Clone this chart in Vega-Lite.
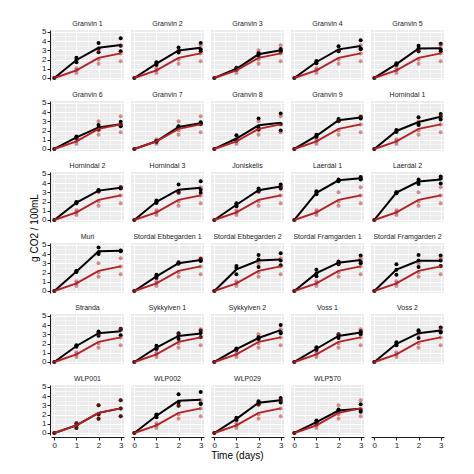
{
"$schema": "https://vega.github.io/schema/vega-lite/v6.json",
"padding": {"left": 29, "top": 20, "right": 5, "bottom": 5},
"background": "white",
"title": {"text": "Time (days)", "orient": "bottom", "anchor": "middle", "fontSize": 10, "font": "Liberation Sans", "fontWeight": "normal", "color": "#000000", "offset": 2},
"data": {"values": [
{"s":"Granvin 1","g":"b","t":0,"v":0},{"s":"Granvin 1","g":"b","t":1,"v":1.7},{"s":"Granvin 1","g":"b","t":1,"v":1.95},{"s":"Granvin 1","g":"b","t":1,"v":2.2},{"s":"Granvin 1","g":"b","t":2,"v":2.8},{"s":"Granvin 1","g":"b","t":2,"v":3.2},{"s":"Granvin 1","g":"b","t":2,"v":3.8},{"s":"Granvin 1","g":"b","t":3,"v":2.9},{"s":"Granvin 1","g":"b","t":3,"v":3.5},{"s":"Granvin 1","g":"b","t":3,"v":4.3},
{"s":"Granvin 2","g":"b","t":0,"v":0},{"s":"Granvin 2","g":"b","t":1,"v":1.4},{"s":"Granvin 2","g":"b","t":1,"v":1.55},{"s":"Granvin 2","g":"b","t":1,"v":1.7},{"s":"Granvin 2","g":"b","t":2,"v":2.75},{"s":"Granvin 2","g":"b","t":2,"v":2.9},{"s":"Granvin 2","g":"b","t":2,"v":3.3},{"s":"Granvin 2","g":"b","t":3,"v":2.9},{"s":"Granvin 2","g":"b","t":3,"v":3.1},{"s":"Granvin 2","g":"b","t":3,"v":3.8},
{"s":"Granvin 3","g":"b","t":0,"v":0},{"s":"Granvin 3","g":"b","t":1,"v":0.9},{"s":"Granvin 3","g":"b","t":1,"v":1.0},{"s":"Granvin 3","g":"b","t":1,"v":1.1},{"s":"Granvin 3","g":"b","t":2,"v":2.4},{"s":"Granvin 3","g":"b","t":2,"v":2.6},{"s":"Granvin 3","g":"b","t":2,"v":2.7},{"s":"Granvin 3","g":"b","t":3,"v":2.85},{"s":"Granvin 3","g":"b","t":3,"v":3.0},{"s":"Granvin 3","g":"b","t":3,"v":3.15},
{"s":"Granvin 4","g":"b","t":0,"v":0},{"s":"Granvin 4","g":"b","t":1,"v":1.6},{"s":"Granvin 4","g":"b","t":1,"v":1.75},{"s":"Granvin 4","g":"b","t":1,"v":1.85},{"s":"Granvin 4","g":"b","t":2,"v":2.9},{"s":"Granvin 4","g":"b","t":2,"v":2.95},{"s":"Granvin 4","g":"b","t":2,"v":3.45},{"s":"Granvin 4","g":"b","t":3,"v":3.1},{"s":"Granvin 4","g":"b","t":3,"v":3.2},{"s":"Granvin 4","g":"b","t":3,"v":4.1},
{"s":"Granvin 5","g":"b","t":0,"v":0},{"s":"Granvin 5","g":"b","t":1,"v":1.4},{"s":"Granvin 5","g":"b","t":1,"v":1.5},{"s":"Granvin 5","g":"b","t":1,"v":1.6},{"s":"Granvin 5","g":"b","t":2,"v":2.9},{"s":"Granvin 5","g":"b","t":2,"v":3.2},{"s":"Granvin 5","g":"b","t":2,"v":3.5},{"s":"Granvin 5","g":"b","t":3,"v":2.9},{"s":"Granvin 5","g":"b","t":3,"v":3.1},{"s":"Granvin 5","g":"b","t":3,"v":3.7},
{"s":"Granvin 6","g":"b","t":0,"v":0},{"s":"Granvin 6","g":"b","t":1,"v":1.15},{"s":"Granvin 6","g":"b","t":1,"v":1.25},{"s":"Granvin 6","g":"b","t":1,"v":1.35},{"s":"Granvin 6","g":"b","t":2,"v":2.1},{"s":"Granvin 6","g":"b","t":2,"v":2.3},{"s":"Granvin 6","g":"b","t":2,"v":2.6},{"s":"Granvin 6","g":"b","t":3,"v":2.45},{"s":"Granvin 6","g":"b","t":3,"v":2.65},{"s":"Granvin 6","g":"b","t":3,"v":2.95},
{"s":"Granvin 7","g":"b","t":0,"v":0},{"s":"Granvin 7","g":"b","t":1,"v":0.75},{"s":"Granvin 7","g":"b","t":1,"v":0.85},{"s":"Granvin 7","g":"b","t":1,"v":0.9},{"s":"Granvin 7","g":"b","t":2,"v":2.3},{"s":"Granvin 7","g":"b","t":2,"v":2.4},{"s":"Granvin 7","g":"b","t":2,"v":2.45},{"s":"Granvin 7","g":"b","t":3,"v":2.7},{"s":"Granvin 7","g":"b","t":3,"v":2.8},{"s":"Granvin 7","g":"b","t":3,"v":2.9},
{"s":"Granvin 8","g":"b","t":0,"v":0},{"s":"Granvin 8","g":"b","t":1,"v":0.9},{"s":"Granvin 8","g":"b","t":1,"v":1.0},{"s":"Granvin 8","g":"b","t":1,"v":1.5},{"s":"Granvin 8","g":"b","t":2,"v":2.1},{"s":"Granvin 8","g":"b","t":2,"v":2.3},{"s":"Granvin 8","g":"b","t":2,"v":3.3},{"s":"Granvin 8","g":"b","t":3,"v":2.0},{"s":"Granvin 8","g":"b","t":3,"v":2.7},{"s":"Granvin 8","g":"b","t":3,"v":3.85},
{"s":"Granvin 9","g":"b","t":0,"v":0},{"s":"Granvin 9","g":"b","t":1,"v":1.3},{"s":"Granvin 9","g":"b","t":1,"v":1.4},{"s":"Granvin 9","g":"b","t":1,"v":1.55},{"s":"Granvin 9","g":"b","t":2,"v":3.0},{"s":"Granvin 9","g":"b","t":2,"v":3.1},{"s":"Granvin 9","g":"b","t":2,"v":3.25},{"s":"Granvin 9","g":"b","t":3,"v":3.3},{"s":"Granvin 9","g":"b","t":3,"v":3.4},{"s":"Granvin 9","g":"b","t":3,"v":3.5},
{"s":"Hornindal 1","g":"b","t":0,"v":0},{"s":"Hornindal 1","g":"b","t":1,"v":1.85},{"s":"Hornindal 1","g":"b","t":1,"v":1.95},{"s":"Hornindal 1","g":"b","t":1,"v":2.05},{"s":"Hornindal 1","g":"b","t":2,"v":2.6},{"s":"Hornindal 1","g":"b","t":2,"v":2.7},{"s":"Hornindal 1","g":"b","t":2,"v":3.45},{"s":"Hornindal 1","g":"b","t":3,"v":3.2},{"s":"Hornindal 1","g":"b","t":3,"v":3.5},{"s":"Hornindal 1","g":"b","t":3,"v":3.8},
{"s":"Hornindal 2","g":"b","t":0,"v":0},{"s":"Hornindal 2","g":"b","t":1,"v":1.8},{"s":"Hornindal 2","g":"b","t":1,"v":1.9},{"s":"Hornindal 2","g":"b","t":1,"v":1.95},{"s":"Hornindal 2","g":"b","t":2,"v":3.1},{"s":"Hornindal 2","g":"b","t":2,"v":3.2},{"s":"Hornindal 2","g":"b","t":2,"v":3.25},{"s":"Hornindal 2","g":"b","t":3,"v":3.4},{"s":"Hornindal 2","g":"b","t":3,"v":3.5},{"s":"Hornindal 2","g":"b","t":3,"v":3.55},
{"s":"Hornindal 3","g":"b","t":0,"v":0},{"s":"Hornindal 3","g":"b","t":1,"v":1.85},{"s":"Hornindal 3","g":"b","t":1,"v":1.95},{"s":"Hornindal 3","g":"b","t":1,"v":2.1},{"s":"Hornindal 3","g":"b","t":2,"v":2.95},{"s":"Hornindal 3","g":"b","t":2,"v":3.05},{"s":"Hornindal 3","g":"b","t":2,"v":3.85},{"s":"Hornindal 3","g":"b","t":3,"v":2.95},{"s":"Hornindal 3","g":"b","t":3,"v":3.3},{"s":"Hornindal 3","g":"b","t":3,"v":4.2},
{"s":"Joniskelis","g":"b","t":0,"v":0},{"s":"Joniskelis","g":"b","t":1,"v":1.5},{"s":"Joniskelis","g":"b","t":1,"v":1.65},{"s":"Joniskelis","g":"b","t":1,"v":1.8},{"s":"Joniskelis","g":"b","t":2,"v":3.1},{"s":"Joniskelis","g":"b","t":2,"v":3.2},{"s":"Joniskelis","g":"b","t":2,"v":3.4},{"s":"Joniskelis","g":"b","t":3,"v":3.4},{"s":"Joniskelis","g":"b","t":3,"v":3.6},{"s":"Joniskelis","g":"b","t":3,"v":3.85},
{"s":"Laerdal 1","g":"b","t":0,"v":0},{"s":"Laerdal 1","g":"b","t":1,"v":2.8},{"s":"Laerdal 1","g":"b","t":1,"v":2.95},{"s":"Laerdal 1","g":"b","t":1,"v":3.1},{"s":"Laerdal 1","g":"b","t":2,"v":4.2},{"s":"Laerdal 1","g":"b","t":2,"v":4.3},{"s":"Laerdal 1","g":"b","t":2,"v":4.4},{"s":"Laerdal 1","g":"b","t":3,"v":4.4},{"s":"Laerdal 1","g":"b","t":3,"v":4.5},{"s":"Laerdal 1","g":"b","t":3,"v":4.65},
{"s":"Laerdal 2","g":"b","t":0,"v":0},{"s":"Laerdal 2","g":"b","t":1,"v":2.9},{"s":"Laerdal 2","g":"b","t":1,"v":3.0},{"s":"Laerdal 2","g":"b","t":1,"v":3.0},{"s":"Laerdal 2","g":"b","t":2,"v":3.9},{"s":"Laerdal 2","g":"b","t":2,"v":4.2},{"s":"Laerdal 2","g":"b","t":2,"v":4.4},{"s":"Laerdal 2","g":"b","t":3,"v":3.95},{"s":"Laerdal 2","g":"b","t":3,"v":4.5},{"s":"Laerdal 2","g":"b","t":3,"v":4.7},
{"s":"Muri","g":"b","t":0,"v":0},{"s":"Muri","g":"b","t":1,"v":2.05},{"s":"Muri","g":"b","t":1,"v":2.1},{"s":"Muri","g":"b","t":1,"v":2.2},{"s":"Muri","g":"b","t":2,"v":4.0},{"s":"Muri","g":"b","t":2,"v":4.2},{"s":"Muri","g":"b","t":2,"v":4.7},{"s":"Muri","g":"b","t":3,"v":4.3},{"s":"Muri","g":"b","t":3,"v":4.35},{"s":"Muri","g":"b","t":3,"v":4.4},
{"s":"Stordal Ebbegarden 1","g":"b","t":0,"v":0},{"s":"Stordal Ebbegarden 1","g":"b","t":1,"v":1.4},{"s":"Stordal Ebbegarden 1","g":"b","t":1,"v":1.6},{"s":"Stordal Ebbegarden 1","g":"b","t":1,"v":1.75},{"s":"Stordal Ebbegarden 1","g":"b","t":2,"v":2.95},{"s":"Stordal Ebbegarden 1","g":"b","t":2,"v":3.0},{"s":"Stordal Ebbegarden 1","g":"b","t":2,"v":3.1},{"s":"Stordal Ebbegarden 1","g":"b","t":3,"v":3.25},{"s":"Stordal Ebbegarden 1","g":"b","t":3,"v":3.35},{"s":"Stordal Ebbegarden 1","g":"b","t":3,"v":3.5},
{"s":"Stordal Ebbegarden 2","g":"b","t":0,"v":0},{"s":"Stordal Ebbegarden 2","g":"b","t":1,"v":1.8},{"s":"Stordal Ebbegarden 2","g":"b","t":1,"v":2.5},{"s":"Stordal Ebbegarden 2","g":"b","t":1,"v":2.7},{"s":"Stordal Ebbegarden 2","g":"b","t":2,"v":2.6},{"s":"Stordal Ebbegarden 2","g":"b","t":2,"v":3.4},{"s":"Stordal Ebbegarden 2","g":"b","t":2,"v":3.9},{"s":"Stordal Ebbegarden 2","g":"b","t":3,"v":2.8},{"s":"Stordal Ebbegarden 2","g":"b","t":3,"v":3.3},{"s":"Stordal Ebbegarden 2","g":"b","t":3,"v":4.1},
{"s":"Stordal Framgarden 1","g":"b","t":0,"v":0},{"s":"Stordal Framgarden 1","g":"b","t":1,"v":1.6},{"s":"Stordal Framgarden 1","g":"b","t":1,"v":1.9},{"s":"Stordal Framgarden 1","g":"b","t":1,"v":2.3},{"s":"Stordal Framgarden 1","g":"b","t":2,"v":2.9},{"s":"Stordal Framgarden 1","g":"b","t":2,"v":3.1},{"s":"Stordal Framgarden 1","g":"b","t":2,"v":3.2},{"s":"Stordal Framgarden 1","g":"b","t":3,"v":3.0},{"s":"Stordal Framgarden 1","g":"b","t":3,"v":3.2},{"s":"Stordal Framgarden 1","g":"b","t":3,"v":3.85},
{"s":"Stordal Framgarden 2","g":"b","t":0,"v":0},{"s":"Stordal Framgarden 2","g":"b","t":1,"v":1.75},{"s":"Stordal Framgarden 2","g":"b","t":1,"v":2.3},{"s":"Stordal Framgarden 2","g":"b","t":1,"v":2.9},{"s":"Stordal Framgarden 2","g":"b","t":2,"v":2.6},{"s":"Stordal Framgarden 2","g":"b","t":2,"v":3.3},{"s":"Stordal Framgarden 2","g":"b","t":2,"v":3.9},{"s":"Stordal Framgarden 2","g":"b","t":3,"v":2.7},{"s":"Stordal Framgarden 2","g":"b","t":3,"v":3.3},{"s":"Stordal Framgarden 2","g":"b","t":3,"v":3.85},
{"s":"Stranda","g":"b","t":0,"v":0},{"s":"Stranda","g":"b","t":1,"v":1.65},{"s":"Stranda","g":"b","t":1,"v":1.75},{"s":"Stranda","g":"b","t":1,"v":1.8},{"s":"Stranda","g":"b","t":2,"v":2.85},{"s":"Stranda","g":"b","t":2,"v":3.2},{"s":"Stranda","g":"b","t":2,"v":3.3},{"s":"Stranda","g":"b","t":3,"v":2.9},{"s":"Stranda","g":"b","t":3,"v":3.5},{"s":"Stranda","g":"b","t":3,"v":3.6},
{"s":"Sykkylven 1","g":"b","t":0,"v":0},{"s":"Sykkylven 1","g":"b","t":1,"v":1.4},{"s":"Sykkylven 1","g":"b","t":1,"v":1.5},{"s":"Sykkylven 1","g":"b","t":1,"v":1.75},{"s":"Sykkylven 1","g":"b","t":2,"v":2.5},{"s":"Sykkylven 1","g":"b","t":2,"v":2.85},{"s":"Sykkylven 1","g":"b","t":2,"v":3.1},{"s":"Sykkylven 1","g":"b","t":3,"v":2.7},{"s":"Sykkylven 1","g":"b","t":3,"v":3.15},{"s":"Sykkylven 1","g":"b","t":3,"v":3.4},
{"s":"Sykkylven 2","g":"b","t":0,"v":0},{"s":"Sykkylven 2","g":"b","t":1,"v":1.3},{"s":"Sykkylven 2","g":"b","t":1,"v":1.4},{"s":"Sykkylven 2","g":"b","t":1,"v":1.45},{"s":"Sykkylven 2","g":"b","t":2,"v":2.5},{"s":"Sykkylven 2","g":"b","t":2,"v":2.6},{"s":"Sykkylven 2","g":"b","t":2,"v":2.7},{"s":"Sykkylven 2","g":"b","t":3,"v":3.1},{"s":"Sykkylven 2","g":"b","t":3,"v":3.25},{"s":"Sykkylven 2","g":"b","t":3,"v":4.0},
{"s":"Voss 1","g":"b","t":0,"v":0},{"s":"Voss 1","g":"b","t":1,"v":1.3},{"s":"Voss 1","g":"b","t":1,"v":1.4},{"s":"Voss 1","g":"b","t":1,"v":1.6},{"s":"Voss 1","g":"b","t":2,"v":2.6},{"s":"Voss 1","g":"b","t":2,"v":2.85},{"s":"Voss 1","g":"b","t":2,"v":3.0},{"s":"Voss 1","g":"b","t":3,"v":3.0},{"s":"Voss 1","g":"b","t":3,"v":3.2},{"s":"Voss 1","g":"b","t":3,"v":3.35},
{"s":"Voss 2","g":"b","t":0,"v":0},{"s":"Voss 2","g":"b","t":1,"v":1.8},{"s":"Voss 2","g":"b","t":1,"v":1.95},{"s":"Voss 2","g":"b","t":1,"v":2.15},{"s":"Voss 2","g":"b","t":2,"v":2.6},{"s":"Voss 2","g":"b","t":2,"v":3.3},{"s":"Voss 2","g":"b","t":2,"v":3.45},{"s":"Voss 2","g":"b","t":3,"v":3.2},{"s":"Voss 2","g":"b","t":3,"v":3.3},{"s":"Voss 2","g":"b","t":3,"v":3.75},
{"s":"WLP001","g":"b","t":0,"v":0},{"s":"WLP001","g":"b","t":1,"v":0.55},{"s":"WLP001","g":"b","t":1,"v":0.85},{"s":"WLP001","g":"b","t":1,"v":1.05},{"s":"WLP001","g":"b","t":2,"v":1.55},{"s":"WLP001","g":"b","t":2,"v":2.0},{"s":"WLP001","g":"b","t":2,"v":3.0},{"s":"WLP001","g":"b","t":3,"v":1.8},{"s":"WLP001","g":"b","t":3,"v":2.65},{"s":"WLP001","g":"b","t":3,"v":3.55},
{"s":"WLP002","g":"b","t":0,"v":0},{"s":"WLP002","g":"b","t":1,"v":1.7},{"s":"WLP002","g":"b","t":1,"v":1.9},{"s":"WLP002","g":"b","t":1,"v":2.0},{"s":"WLP002","g":"b","t":2,"v":2.95},{"s":"WLP002","g":"b","t":2,"v":3.3},{"s":"WLP002","g":"b","t":2,"v":4.2},{"s":"WLP002","g":"b","t":3,"v":3.15},{"s":"WLP002","g":"b","t":3,"v":3.2},{"s":"WLP002","g":"b","t":3,"v":4.45},
{"s":"WLP029","g":"b","t":0,"v":0},{"s":"WLP029","g":"b","t":1,"v":1.4},{"s":"WLP029","g":"b","t":1,"v":1.55},{"s":"WLP029","g":"b","t":1,"v":1.65},{"s":"WLP029","g":"b","t":2,"v":3.1},{"s":"WLP029","g":"b","t":2,"v":3.3},{"s":"WLP029","g":"b","t":2,"v":3.45},{"s":"WLP029","g":"b","t":3,"v":3.3},{"s":"WLP029","g":"b","t":3,"v":3.55},{"s":"WLP029","g":"b","t":3,"v":3.8},
{"s":"WLP570","g":"b","t":0,"v":0},{"s":"WLP570","g":"b","t":1,"v":1.0},{"s":"WLP570","g":"b","t":1,"v":1.15},{"s":"WLP570","g":"b","t":1,"v":1.35},{"s":"WLP570","g":"b","t":2,"v":2.3},{"s":"WLP570","g":"b","t":2,"v":2.45},{"s":"WLP570","g":"b","t":2,"v":2.55},{"s":"WLP570","g":"b","t":3,"v":2.3},{"s":"WLP570","g":"b","t":3,"v":2.5},{"s":"WLP570","g":"b","t":3,"v":3.1},
{"s":"Granvin 1","g":"r","t":0,"v":0},{"s":"Granvin 1","g":"r","t":1,"v":0.55},{"s":"Granvin 1","g":"r","t":1,"v":0.85},{"s":"Granvin 1","g":"r","t":1,"v":1.05},{"s":"Granvin 1","g":"r","t":2,"v":1.55},{"s":"Granvin 1","g":"r","t":2,"v":2.0},{"s":"Granvin 1","g":"r","t":2,"v":3.0},{"s":"Granvin 1","g":"r","t":3,"v":1.8},{"s":"Granvin 1","g":"r","t":3,"v":2.65},{"s":"Granvin 1","g":"r","t":3,"v":3.55},
{"s":"Granvin 2","g":"r","t":0,"v":0},{"s":"Granvin 2","g":"r","t":1,"v":0.55},{"s":"Granvin 2","g":"r","t":1,"v":0.85},{"s":"Granvin 2","g":"r","t":1,"v":1.05},{"s":"Granvin 2","g":"r","t":2,"v":1.55},{"s":"Granvin 2","g":"r","t":2,"v":2.0},{"s":"Granvin 2","g":"r","t":2,"v":3.0},{"s":"Granvin 2","g":"r","t":3,"v":1.8},{"s":"Granvin 2","g":"r","t":3,"v":2.65},{"s":"Granvin 2","g":"r","t":3,"v":3.55},
{"s":"Granvin 3","g":"r","t":0,"v":0},{"s":"Granvin 3","g":"r","t":1,"v":0.55},{"s":"Granvin 3","g":"r","t":1,"v":0.85},{"s":"Granvin 3","g":"r","t":1,"v":1.05},{"s":"Granvin 3","g":"r","t":2,"v":1.55},{"s":"Granvin 3","g":"r","t":2,"v":2.0},{"s":"Granvin 3","g":"r","t":2,"v":3.0},{"s":"Granvin 3","g":"r","t":3,"v":1.8},{"s":"Granvin 3","g":"r","t":3,"v":2.65},{"s":"Granvin 3","g":"r","t":3,"v":3.55},
{"s":"Granvin 4","g":"r","t":0,"v":0},{"s":"Granvin 4","g":"r","t":1,"v":0.55},{"s":"Granvin 4","g":"r","t":1,"v":0.85},{"s":"Granvin 4","g":"r","t":1,"v":1.05},{"s":"Granvin 4","g":"r","t":2,"v":1.55},{"s":"Granvin 4","g":"r","t":2,"v":2.0},{"s":"Granvin 4","g":"r","t":2,"v":3.0},{"s":"Granvin 4","g":"r","t":3,"v":1.8},{"s":"Granvin 4","g":"r","t":3,"v":2.65},{"s":"Granvin 4","g":"r","t":3,"v":3.55},
{"s":"Granvin 5","g":"r","t":0,"v":0},{"s":"Granvin 5","g":"r","t":1,"v":0.55},{"s":"Granvin 5","g":"r","t":1,"v":0.85},{"s":"Granvin 5","g":"r","t":1,"v":1.05},{"s":"Granvin 5","g":"r","t":2,"v":1.55},{"s":"Granvin 5","g":"r","t":2,"v":2.0},{"s":"Granvin 5","g":"r","t":2,"v":3.0},{"s":"Granvin 5","g":"r","t":3,"v":1.8},{"s":"Granvin 5","g":"r","t":3,"v":2.65},{"s":"Granvin 5","g":"r","t":3,"v":3.55},
{"s":"Granvin 6","g":"r","t":0,"v":0},{"s":"Granvin 6","g":"r","t":1,"v":0.55},{"s":"Granvin 6","g":"r","t":1,"v":0.85},{"s":"Granvin 6","g":"r","t":1,"v":1.05},{"s":"Granvin 6","g":"r","t":2,"v":1.55},{"s":"Granvin 6","g":"r","t":2,"v":2.0},{"s":"Granvin 6","g":"r","t":2,"v":3.0},{"s":"Granvin 6","g":"r","t":3,"v":1.8},{"s":"Granvin 6","g":"r","t":3,"v":2.65},{"s":"Granvin 6","g":"r","t":3,"v":3.55},
{"s":"Granvin 7","g":"r","t":0,"v":0},{"s":"Granvin 7","g":"r","t":1,"v":0.55},{"s":"Granvin 7","g":"r","t":1,"v":0.85},{"s":"Granvin 7","g":"r","t":1,"v":1.05},{"s":"Granvin 7","g":"r","t":2,"v":1.55},{"s":"Granvin 7","g":"r","t":2,"v":2.0},{"s":"Granvin 7","g":"r","t":2,"v":3.0},{"s":"Granvin 7","g":"r","t":3,"v":1.8},{"s":"Granvin 7","g":"r","t":3,"v":2.65},{"s":"Granvin 7","g":"r","t":3,"v":3.55},
{"s":"Granvin 8","g":"r","t":0,"v":0},{"s":"Granvin 8","g":"r","t":1,"v":0.55},{"s":"Granvin 8","g":"r","t":1,"v":0.85},{"s":"Granvin 8","g":"r","t":1,"v":1.05},{"s":"Granvin 8","g":"r","t":2,"v":1.55},{"s":"Granvin 8","g":"r","t":2,"v":2.0},{"s":"Granvin 8","g":"r","t":2,"v":3.0},{"s":"Granvin 8","g":"r","t":3,"v":1.8},{"s":"Granvin 8","g":"r","t":3,"v":2.65},{"s":"Granvin 8","g":"r","t":3,"v":3.55},
{"s":"Granvin 9","g":"r","t":0,"v":0},{"s":"Granvin 9","g":"r","t":1,"v":0.55},{"s":"Granvin 9","g":"r","t":1,"v":0.85},{"s":"Granvin 9","g":"r","t":1,"v":1.05},{"s":"Granvin 9","g":"r","t":2,"v":1.55},{"s":"Granvin 9","g":"r","t":2,"v":2.0},{"s":"Granvin 9","g":"r","t":2,"v":3.0},{"s":"Granvin 9","g":"r","t":3,"v":1.8},{"s":"Granvin 9","g":"r","t":3,"v":2.65},{"s":"Granvin 9","g":"r","t":3,"v":3.55},
{"s":"Hornindal 1","g":"r","t":0,"v":0},{"s":"Hornindal 1","g":"r","t":1,"v":0.55},{"s":"Hornindal 1","g":"r","t":1,"v":0.85},{"s":"Hornindal 1","g":"r","t":1,"v":1.05},{"s":"Hornindal 1","g":"r","t":2,"v":1.55},{"s":"Hornindal 1","g":"r","t":2,"v":2.0},{"s":"Hornindal 1","g":"r","t":2,"v":3.0},{"s":"Hornindal 1","g":"r","t":3,"v":1.8},{"s":"Hornindal 1","g":"r","t":3,"v":2.65},{"s":"Hornindal 1","g":"r","t":3,"v":3.55},
{"s":"Hornindal 2","g":"r","t":0,"v":0},{"s":"Hornindal 2","g":"r","t":1,"v":0.55},{"s":"Hornindal 2","g":"r","t":1,"v":0.85},{"s":"Hornindal 2","g":"r","t":1,"v":1.05},{"s":"Hornindal 2","g":"r","t":2,"v":1.55},{"s":"Hornindal 2","g":"r","t":2,"v":2.0},{"s":"Hornindal 2","g":"r","t":2,"v":3.0},{"s":"Hornindal 2","g":"r","t":3,"v":1.8},{"s":"Hornindal 2","g":"r","t":3,"v":2.65},{"s":"Hornindal 2","g":"r","t":3,"v":3.55},
{"s":"Hornindal 3","g":"r","t":0,"v":0},{"s":"Hornindal 3","g":"r","t":1,"v":0.55},{"s":"Hornindal 3","g":"r","t":1,"v":0.85},{"s":"Hornindal 3","g":"r","t":1,"v":1.05},{"s":"Hornindal 3","g":"r","t":2,"v":1.55},{"s":"Hornindal 3","g":"r","t":2,"v":2.0},{"s":"Hornindal 3","g":"r","t":2,"v":3.0},{"s":"Hornindal 3","g":"r","t":3,"v":1.8},{"s":"Hornindal 3","g":"r","t":3,"v":2.65},{"s":"Hornindal 3","g":"r","t":3,"v":3.55},
{"s":"Joniskelis","g":"r","t":0,"v":0},{"s":"Joniskelis","g":"r","t":1,"v":0.55},{"s":"Joniskelis","g":"r","t":1,"v":0.85},{"s":"Joniskelis","g":"r","t":1,"v":1.05},{"s":"Joniskelis","g":"r","t":2,"v":1.55},{"s":"Joniskelis","g":"r","t":2,"v":2.0},{"s":"Joniskelis","g":"r","t":2,"v":3.0},{"s":"Joniskelis","g":"r","t":3,"v":1.8},{"s":"Joniskelis","g":"r","t":3,"v":2.65},{"s":"Joniskelis","g":"r","t":3,"v":3.55},
{"s":"Laerdal 1","g":"r","t":0,"v":0},{"s":"Laerdal 1","g":"r","t":1,"v":0.55},{"s":"Laerdal 1","g":"r","t":1,"v":0.85},{"s":"Laerdal 1","g":"r","t":1,"v":1.05},{"s":"Laerdal 1","g":"r","t":2,"v":1.55},{"s":"Laerdal 1","g":"r","t":2,"v":2.0},{"s":"Laerdal 1","g":"r","t":2,"v":3.0},{"s":"Laerdal 1","g":"r","t":3,"v":1.8},{"s":"Laerdal 1","g":"r","t":3,"v":2.65},{"s":"Laerdal 1","g":"r","t":3,"v":3.55},
{"s":"Laerdal 2","g":"r","t":0,"v":0},{"s":"Laerdal 2","g":"r","t":1,"v":0.55},{"s":"Laerdal 2","g":"r","t":1,"v":0.85},{"s":"Laerdal 2","g":"r","t":1,"v":1.05},{"s":"Laerdal 2","g":"r","t":2,"v":1.55},{"s":"Laerdal 2","g":"r","t":2,"v":2.0},{"s":"Laerdal 2","g":"r","t":2,"v":3.0},{"s":"Laerdal 2","g":"r","t":3,"v":1.8},{"s":"Laerdal 2","g":"r","t":3,"v":2.65},{"s":"Laerdal 2","g":"r","t":3,"v":3.55},
{"s":"Muri","g":"r","t":0,"v":0},{"s":"Muri","g":"r","t":1,"v":0.55},{"s":"Muri","g":"r","t":1,"v":0.85},{"s":"Muri","g":"r","t":1,"v":1.05},{"s":"Muri","g":"r","t":2,"v":1.55},{"s":"Muri","g":"r","t":2,"v":2.0},{"s":"Muri","g":"r","t":2,"v":3.0},{"s":"Muri","g":"r","t":3,"v":1.8},{"s":"Muri","g":"r","t":3,"v":2.65},{"s":"Muri","g":"r","t":3,"v":3.55},
{"s":"Stordal Ebbegarden 1","g":"r","t":0,"v":0},{"s":"Stordal Ebbegarden 1","g":"r","t":1,"v":0.55},{"s":"Stordal Ebbegarden 1","g":"r","t":1,"v":0.85},{"s":"Stordal Ebbegarden 1","g":"r","t":1,"v":1.05},{"s":"Stordal Ebbegarden 1","g":"r","t":2,"v":1.55},{"s":"Stordal Ebbegarden 1","g":"r","t":2,"v":2.0},{"s":"Stordal Ebbegarden 1","g":"r","t":2,"v":3.0},{"s":"Stordal Ebbegarden 1","g":"r","t":3,"v":1.8},{"s":"Stordal Ebbegarden 1","g":"r","t":3,"v":2.65},{"s":"Stordal Ebbegarden 1","g":"r","t":3,"v":3.55},
{"s":"Stordal Ebbegarden 2","g":"r","t":0,"v":0},{"s":"Stordal Ebbegarden 2","g":"r","t":1,"v":0.55},{"s":"Stordal Ebbegarden 2","g":"r","t":1,"v":0.85},{"s":"Stordal Ebbegarden 2","g":"r","t":1,"v":1.05},{"s":"Stordal Ebbegarden 2","g":"r","t":2,"v":1.55},{"s":"Stordal Ebbegarden 2","g":"r","t":2,"v":2.0},{"s":"Stordal Ebbegarden 2","g":"r","t":2,"v":3.0},{"s":"Stordal Ebbegarden 2","g":"r","t":3,"v":1.8},{"s":"Stordal Ebbegarden 2","g":"r","t":3,"v":2.65},{"s":"Stordal Ebbegarden 2","g":"r","t":3,"v":3.55},
{"s":"Stordal Framgarden 1","g":"r","t":0,"v":0},{"s":"Stordal Framgarden 1","g":"r","t":1,"v":0.55},{"s":"Stordal Framgarden 1","g":"r","t":1,"v":0.85},{"s":"Stordal Framgarden 1","g":"r","t":1,"v":1.05},{"s":"Stordal Framgarden 1","g":"r","t":2,"v":1.55},{"s":"Stordal Framgarden 1","g":"r","t":2,"v":2.0},{"s":"Stordal Framgarden 1","g":"r","t":2,"v":3.0},{"s":"Stordal Framgarden 1","g":"r","t":3,"v":1.8},{"s":"Stordal Framgarden 1","g":"r","t":3,"v":2.65},{"s":"Stordal Framgarden 1","g":"r","t":3,"v":3.55},
{"s":"Stordal Framgarden 2","g":"r","t":0,"v":0},{"s":"Stordal Framgarden 2","g":"r","t":1,"v":0.55},{"s":"Stordal Framgarden 2","g":"r","t":1,"v":0.85},{"s":"Stordal Framgarden 2","g":"r","t":1,"v":1.05},{"s":"Stordal Framgarden 2","g":"r","t":2,"v":1.55},{"s":"Stordal Framgarden 2","g":"r","t":2,"v":2.0},{"s":"Stordal Framgarden 2","g":"r","t":2,"v":3.0},{"s":"Stordal Framgarden 2","g":"r","t":3,"v":1.8},{"s":"Stordal Framgarden 2","g":"r","t":3,"v":2.65},{"s":"Stordal Framgarden 2","g":"r","t":3,"v":3.55},
{"s":"Stranda","g":"r","t":0,"v":0},{"s":"Stranda","g":"r","t":1,"v":0.55},{"s":"Stranda","g":"r","t":1,"v":0.85},{"s":"Stranda","g":"r","t":1,"v":1.05},{"s":"Stranda","g":"r","t":2,"v":1.55},{"s":"Stranda","g":"r","t":2,"v":2.0},{"s":"Stranda","g":"r","t":2,"v":3.0},{"s":"Stranda","g":"r","t":3,"v":1.8},{"s":"Stranda","g":"r","t":3,"v":2.65},{"s":"Stranda","g":"r","t":3,"v":3.55},
{"s":"Sykkylven 1","g":"r","t":0,"v":0},{"s":"Sykkylven 1","g":"r","t":1,"v":0.55},{"s":"Sykkylven 1","g":"r","t":1,"v":0.85},{"s":"Sykkylven 1","g":"r","t":1,"v":1.05},{"s":"Sykkylven 1","g":"r","t":2,"v":1.55},{"s":"Sykkylven 1","g":"r","t":2,"v":2.0},{"s":"Sykkylven 1","g":"r","t":2,"v":3.0},{"s":"Sykkylven 1","g":"r","t":3,"v":1.8},{"s":"Sykkylven 1","g":"r","t":3,"v":2.65},{"s":"Sykkylven 1","g":"r","t":3,"v":3.55},
{"s":"Sykkylven 2","g":"r","t":0,"v":0},{"s":"Sykkylven 2","g":"r","t":1,"v":0.55},{"s":"Sykkylven 2","g":"r","t":1,"v":0.85},{"s":"Sykkylven 2","g":"r","t":1,"v":1.05},{"s":"Sykkylven 2","g":"r","t":2,"v":1.55},{"s":"Sykkylven 2","g":"r","t":2,"v":2.0},{"s":"Sykkylven 2","g":"r","t":2,"v":3.0},{"s":"Sykkylven 2","g":"r","t":3,"v":1.8},{"s":"Sykkylven 2","g":"r","t":3,"v":2.65},{"s":"Sykkylven 2","g":"r","t":3,"v":3.55},
{"s":"Voss 1","g":"r","t":0,"v":0},{"s":"Voss 1","g":"r","t":1,"v":0.55},{"s":"Voss 1","g":"r","t":1,"v":0.85},{"s":"Voss 1","g":"r","t":1,"v":1.05},{"s":"Voss 1","g":"r","t":2,"v":1.55},{"s":"Voss 1","g":"r","t":2,"v":2.0},{"s":"Voss 1","g":"r","t":2,"v":3.0},{"s":"Voss 1","g":"r","t":3,"v":1.8},{"s":"Voss 1","g":"r","t":3,"v":2.65},{"s":"Voss 1","g":"r","t":3,"v":3.55},
{"s":"Voss 2","g":"r","t":0,"v":0},{"s":"Voss 2","g":"r","t":1,"v":0.55},{"s":"Voss 2","g":"r","t":1,"v":0.85},{"s":"Voss 2","g":"r","t":1,"v":1.05},{"s":"Voss 2","g":"r","t":2,"v":1.55},{"s":"Voss 2","g":"r","t":2,"v":2.0},{"s":"Voss 2","g":"r","t":2,"v":3.0},{"s":"Voss 2","g":"r","t":3,"v":1.8},{"s":"Voss 2","g":"r","t":3,"v":2.65},{"s":"Voss 2","g":"r","t":3,"v":3.55},
{"s":"WLP001","g":"r","t":0,"v":0},{"s":"WLP001","g":"r","t":1,"v":0.55},{"s":"WLP001","g":"r","t":1,"v":0.85},{"s":"WLP001","g":"r","t":1,"v":1.05},{"s":"WLP001","g":"r","t":2,"v":1.55},{"s":"WLP001","g":"r","t":2,"v":2.0},{"s":"WLP001","g":"r","t":2,"v":3.0},{"s":"WLP001","g":"r","t":3,"v":1.8},{"s":"WLP001","g":"r","t":3,"v":2.65},{"s":"WLP001","g":"r","t":3,"v":3.55},
{"s":"WLP002","g":"r","t":0,"v":0},{"s":"WLP002","g":"r","t":1,"v":0.55},{"s":"WLP002","g":"r","t":1,"v":0.85},{"s":"WLP002","g":"r","t":1,"v":1.05},{"s":"WLP002","g":"r","t":2,"v":1.55},{"s":"WLP002","g":"r","t":2,"v":2.0},{"s":"WLP002","g":"r","t":2,"v":3.0},{"s":"WLP002","g":"r","t":3,"v":1.8},{"s":"WLP002","g":"r","t":3,"v":2.65},{"s":"WLP002","g":"r","t":3,"v":3.55},
{"s":"WLP029","g":"r","t":0,"v":0},{"s":"WLP029","g":"r","t":1,"v":0.55},{"s":"WLP029","g":"r","t":1,"v":0.85},{"s":"WLP029","g":"r","t":1,"v":1.05},{"s":"WLP029","g":"r","t":2,"v":1.55},{"s":"WLP029","g":"r","t":2,"v":2.0},{"s":"WLP029","g":"r","t":2,"v":3.0},{"s":"WLP029","g":"r","t":3,"v":1.8},{"s":"WLP029","g":"r","t":3,"v":2.65},{"s":"WLP029","g":"r","t":3,"v":3.55},
{"s":"WLP570","g":"r","t":0,"v":0},{"s":"WLP570","g":"r","t":1,"v":0.55},{"s":"WLP570","g":"r","t":1,"v":0.85},{"s":"WLP570","g":"r","t":1,"v":1.05},{"s":"WLP570","g":"r","t":2,"v":1.55},{"s":"WLP570","g":"r","t":2,"v":2.0},{"s":"WLP570","g":"r","t":2,"v":3.0},{"s":"WLP570","g":"r","t":3,"v":1.8},{"s":"WLP570","g":"r","t":3,"v":2.65},{"s":"WLP570","g":"r","t":3,"v":3.55}
]},
"facet": {"field": "s", "type": "nominal", "sort": "ascending",
  "header": {"title": "g CO2 / 100mL", "titleOrient": "left", "titleAngle": -90, "titleFontSize": 10, "titleFont": "Liberation Sans", "titleFontWeight": "normal", "titleColor": "#000000", "titlePadding": -9,
    "labelOrient": "top", "labelFontSize": 7, "labelFont": "Liberation Sans", "labelColor": "#1a1a1a", "labelPadding": 3}},
"columns": 5,
"spacing": {"row": 9, "column": 5},
"spec": {
  "width": 73, "height": 50,
  "encoding": {
    "x": {"field": "t", "type": "quantitative",
      "scale": {"domain": [-0.15, 3.15], "nice": false, "zero": false},
      "axis": {"title": null, "values": [0, 0.5, 1, 1.5, 2, 2.5, 3],
        "labelExpr": "datum.value % 1 === 0 ? '' + datum.value : ''",
        "tickOpacity": {"condition": {"test": "datum.value % 1 !== 0", "value": 0}, "value": 1},
        "gridWidth": {"condition": {"test": "datum.value % 1 !== 0", "value": 0.5}, "value": 1}}},
    "y": {"field": "v", "type": "quantitative",
      "scale": {"domain": [-0.22, 5.2], "nice": false, "zero": false},
      "axis": {"title": null, "values": [0, 0.5, 1, 1.5, 2, 2.5, 3, 3.5, 4, 4.5, 5],
        "labelExpr": "datum.value % 1 === 0 ? '' + datum.value : ''",
        "tickOpacity": {"condition": {"test": "datum.value % 1 !== 0", "value": 0}, "value": 1},
        "gridWidth": {"condition": {"test": "datum.value % 1 !== 0", "value": 0.5}, "value": 1}}}
  },
  "layer": [
    {"transform": [{"filter": "datum.g === 'b'"}],
     "mark": {"type": "point", "filled": true, "size": 16, "color": "#000000", "opacity": 1}},
    {"transform": [{"filter": "datum.g === 'r'"}],
     "mark": {"type": "point", "filled": true, "size": 16, "color": "#B22328", "opacity": 0.5}},
    {"transform": [{"filter": "datum.g === 'b'"}],
     "mark": {"type": "line", "color": "#000000", "strokeWidth": 2},
     "encoding": {"y": {"aggregate": "mean", "field": "v", "type": "quantitative"}, "detail": {"field": "s"}}},
    {"transform": [{"filter": "datum.g === 'r'"}],
     "mark": {"type": "line", "color": "#B22328", "strokeWidth": 2},
     "encoding": {"y": {"aggregate": "mean", "field": "v", "type": "quantitative"}, "detail": {"field": "s"}}}
  ]
},
"config": {
  "view": {"fill": "#EBEBEB", "stroke": null},
  "axis": {"domainColor": "#1a1a1a", "tickColor": "#1a1a1a", "labelColor": "#1a1a1a",
    "labelFont": "Liberation Sans", "titleFont": "Liberation Sans", "labelFontSize": 8,
    "titleFontSize": 10, "titleFontWeight": "normal", "titleColor": "#000000",
    "gridColor": "#FFFFFF", "gridOpacity": 1, "tickSize": 3, "labelPadding": 1, "titlePadding": 3}
}
}
